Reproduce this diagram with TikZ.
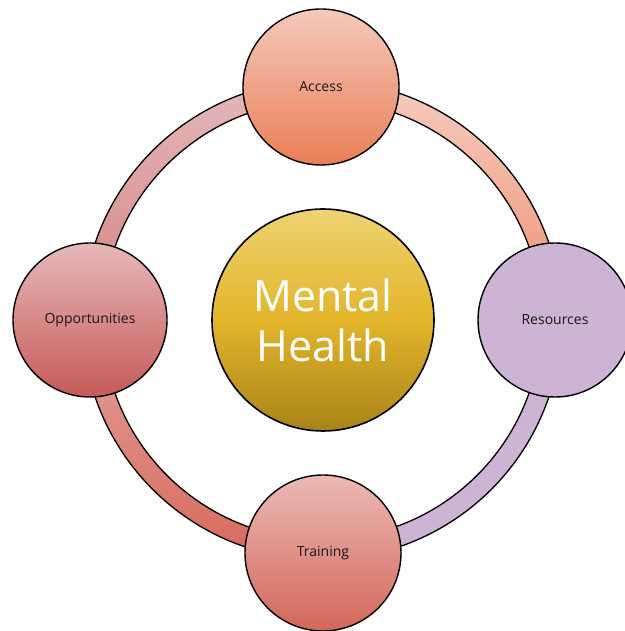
\documentclass[tikz,border=0pt]{standalone}
\usepackage{fontspec}
\setmainfont{Open Sans}
\begin{document}
\begin{tikzpicture}[x=1pt,y=1pt,
  bubble/.style={circle,draw=black,line width=1.4pt,inner sep=0pt,font=\fontsize{14}{16}\selectfont,text=black!90},
  hub/.style={circle,draw=black,line width=1.6pt,inner sep=0pt,align=center,text=white,font=\fontsize{43}{50}\selectfont},
  ringedge/.style={draw=black,line width=1.3pt}]
\useasboundingbox (0,0) rectangle (624,631);
\definecolor{trT}{HTML}{F5CCC0}\definecolor{trB}{HTML}{EE916F}
\definecolor{tlT}{HTML}{E3B9BB}\definecolor{tlB}{HTML}{D5807F}
\definecolor{blT}{HTML}{E2A4A1}\definecolor{blB}{HTML}{D8685A}
\definecolor{lav}{HTML}{CDB3D4}
\definecolor{mhT}{HTML}{EDD372}\definecolor{mhM}{HTML}{E3B52A}\definecolor{mhB}{HTML}{A88419}
\definecolor{acT}{HTML}{F4C9BC}\definecolor{acB}{HTML}{EB7E55}
\definecolor{opT}{HTML}{E7B9BA}\definecolor{opB}{HTML}{C65A57}
\definecolor{tnT}{HTML}{EBBAB5}\definecolor{tnB}{HTML}{D3665A}
\coordinate (c) at (322,311);
% ring quadrants
\begin{scope}[shift={(c)}]
  \path[top color=trT,bottom color=trB] (0:219.5) -- (0:239.5) arc[start angle=0,end angle=90,radius=239.5] -- (90:219.5) arc[start angle=90,end angle=0,radius=219.5] -- cycle;
  \path[top color=tlT,bottom color=tlB] (90:219.5) -- (90:239.5) arc[start angle=90,end angle=180,radius=239.5] -- (180:219.5) arc[start angle=180,end angle=90,radius=219.5] -- cycle;
  \path[top color=blT,bottom color=blB] (180:219.5) -- (180:239.5) arc[start angle=180,end angle=270,radius=239.5] -- (270:219.5) arc[start angle=270,end angle=180,radius=219.5] -- cycle;
  \path[fill=lav] (270:219.5) -- (270:239.5) arc[start angle=270,end angle=360,radius=239.5] -- (0:219.5) arc[start angle=360,end angle=270,radius=219.5] -- cycle;
  \draw[ringedge] (0,0) circle[radius=239.5];
  \draw[ringedge] (0,0) circle[radius=219.5];
\end{scope}
% hub
\node[hub,minimum size=222pt,top color=mhT,bottom color=mhB,middle color=mhM] (mh) at (323,311) {Mental\\Health};
% satellites
\node[bubble,minimum size=156pt,top color=acT,bottom color=acB] (access) at (321,544) {Access};
\node[bubble,minimum size=154pt,fill=lav] (res) at (555,311) {Resources};
\node[bubble,minimum size=156pt,top color=tnT,bottom color=tnB] (train) at (323,78) {Training};
\node[bubble,minimum size=154pt,top color=opT,bottom color=opB] (opp) at (90,311) {Opportunities};
\end{tikzpicture}
\end{document}
